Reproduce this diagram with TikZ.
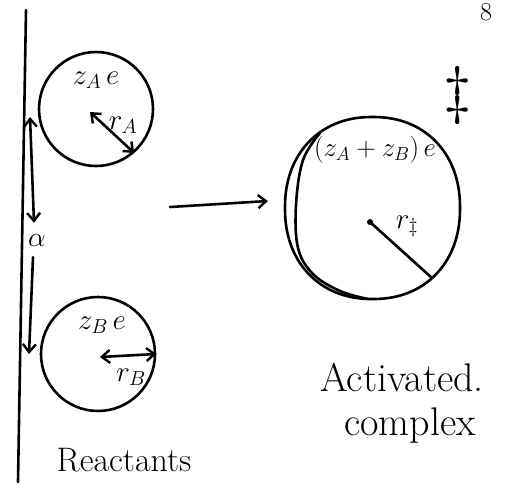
\RequirePackage{fix-cm}
\documentclass[tikz,border=0pt]{standalone}
\usetikzlibrary{arrows.meta,shapes.geometric,calc}
\tikzset{
  ink/.style={line width=2.6pt, line cap=round, line join=round},
  barb/.style={-{Straight Barb[length=8pt,width=13pt,line width=2.4pt]}},
  dbarb/.style={{Straight Barb[length=8pt,width=13pt,line width=2.4pt]}-{Straight Barb[length=8pt,width=13pt,line width=2.4pt]}},
  ball/.style={ink, draw, circle, minimum size=114pt, inner sep=0pt},
  lbl/.style={inner sep=0pt, font=\fontsize{29}{32}\selectfont},
  big/.style={inner sep=0pt, font=\fontsize{40}{44}\selectfont},
}
\begin{document}
\begin{tikzpicture}[x=1pt,y=-1pt]
\useasboundingbox (0,0) rectangle (511,488);
% page number
\node[inner sep=0pt, font=\fontsize{26}{28}\selectfont] (pg) at (486,12) {8};
% left vertical line
\coordinate (vtop) at (26,10);
\coordinate (vbot) at (18,482);
\draw[ink] (vtop) -- (vbot);
% reactant A
\node[ball] (A) at (96,109) {};
\node[lbl] (zA) at (96,80) {$z_A\,e$};
\draw[ink,dbarb] ($(A.center)+(-6,3)$) -- (A.-49);
\node[lbl] (rA) at (123,125) {$r_A$};
% reactant B
\node[ball] (B) at (98,354) {};
\node[lbl] (zB) at (102,325) {$z_B\,e$};
\draw[ink,dbarb] ($(B.center)+(2,3)$) -- (B.east);
\node[lbl] (rB) at (131,377) {$r_B$};
% alpha distance
\coordinate (atop) at (30,117);
\coordinate (abot) at (29,354);
\node[inner sep=1pt, font=\fontsize{28}{30}\selectfont] (al) at (37,240) {$\alpha$};
\draw[ink,dbarb] (atop) -- ($(al.north)+(-3,-10)$);
\draw[ink,barb] ($(al.south)+(-4,10)$) -- (abot);
\node[inner sep=0pt, font=\fontsize{34}{38}\selectfont] (re) at (124,460) {Reactants};
% reaction arrow
\coordinate (ar1) at (170,207);
\coordinate (ar2) at (268,201);
\draw[ink,barb] (ar1) -- (ar2);
% activated complex (slightly squarish round outline)
\draw[ink] plot[domain=0:360, samples=120, smooth, variable=\t]
  ({372.5 + 87.5*sign(cos(\t))*(abs(cos(\t))+0.00001)^(0.92)},
   {208 + 91*sign(sin(\t))*(abs(sin(\t))+0.00001)^(0.92)}) -- cycle;
\draw[ink] plot[smooth, tension=0.6] coordinates {(320,133) (303,160) (296,205) (298,248) (313,274) (340,291) (368,299)};
\node[inner sep=0pt, font=\fontsize{27}{30}\selectfont] (zAB) at (375,150) {$(z_A+z_B)\,e$};
\coordinate (rc) at (370,222);
\coordinate (re2) at (432,278);
\fill (rc) circle (3pt);
\draw[ink] (rc) -- (re2);
\node[lbl] (rC) at (407,226) {$r_\ddagger$};
\node[inner sep=0pt, font=\fontsize{64}{66}\selectfont] (dd) at (458,95) {$\ddagger$};
\node[big] (act) at (402,378) {Activated.};
\node[big] (cx) at (410,426) {complex};
\end{tikzpicture}
\end{document}
